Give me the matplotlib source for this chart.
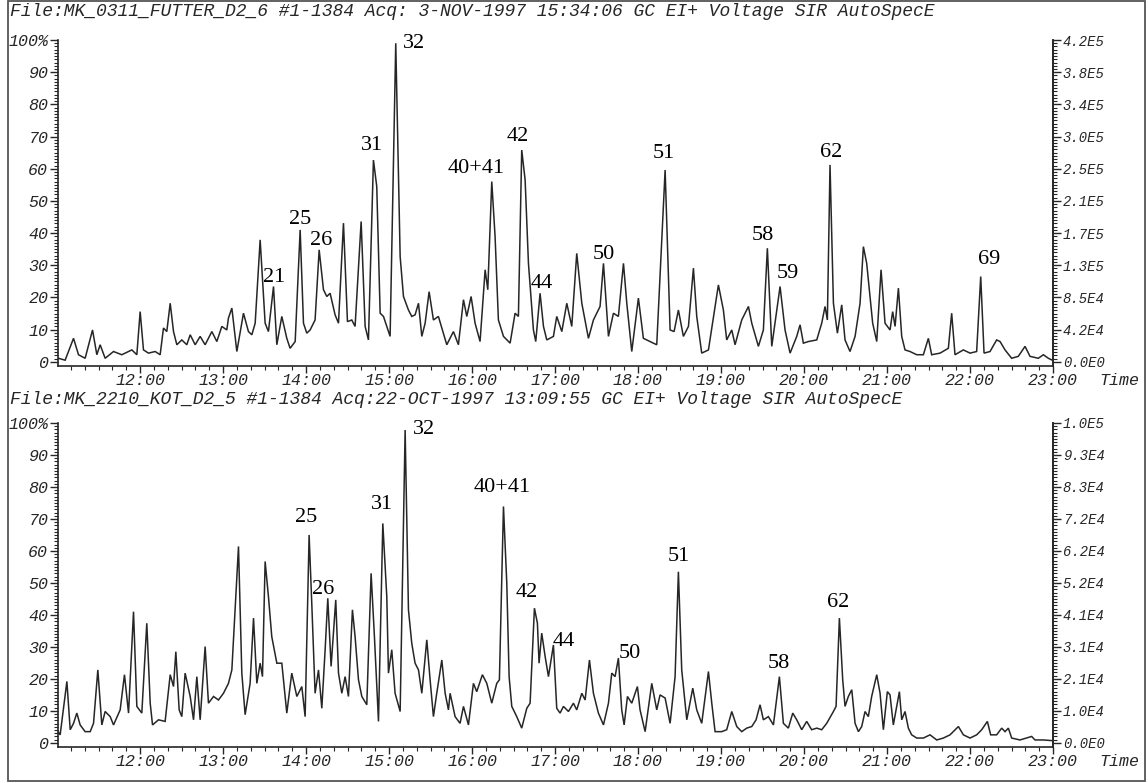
import matplotlib
matplotlib.use('Agg')
import matplotlib.pyplot as plt
from matplotlib.patches import Rectangle
from matplotlib.ticker import FixedLocator

# ---------------- data (retention time in minutes, relative intensity in %) -------------
top_time = [11.016, 11.096, 11.197, 11.257, 11.337, 11.426, 11.478, 11.518, 11.578, 11.679,
            11.779, 11.900, 11.960, 12.000, 12.040, 12.100, 12.181, 12.241, 12.281, 12.321,
            12.362, 12.402, 12.442, 12.502, 12.562, 12.603, 12.663, 12.723, 12.783, 12.864,
            12.924, 12.984, 13.044, 13.064, 13.105, 13.165, 13.245, 13.305, 13.346, 13.386,
            13.446, 13.506, 13.546, 13.607, 13.647, 13.707, 13.767, 13.807, 13.868, 13.928,
            13.968, 14.008, 14.048, 14.108, 14.157, 14.209, 14.249, 14.289, 14.349, 14.390,
            14.450, 14.498, 14.550, 14.590, 14.663, 14.711, 14.751, 14.811, 14.851, 14.892,
            14.932, 15.012, 15.080, 15.133, 15.173, 15.233, 15.273, 15.313, 15.354, 15.394,
            15.434, 15.482, 15.534, 15.594, 15.635, 15.695, 15.775, 15.835, 15.896, 15.936,
            15.988, 16.036, 16.096, 16.157, 16.189, 16.237, 16.277, 16.317, 16.378, 16.458,
            16.518, 16.558, 16.598, 16.639, 16.679, 16.739, 16.767, 16.819, 16.860, 16.900,
            16.980, 17.020, 17.081, 17.141, 17.201, 17.261, 17.322, 17.402, 17.462, 17.542,
            17.583, 17.643, 17.703, 17.763, 17.824, 17.864, 17.924, 18.004, 18.064, 18.145,
            18.225, 18.326, 18.386, 18.434, 18.486, 18.546, 18.607, 18.667, 18.707, 18.767,
            18.848, 18.968, 19.028, 19.068, 19.129, 19.169, 19.249, 19.330, 19.370, 19.450,
            19.510, 19.558, 19.611, 19.711, 19.771, 19.832, 19.912, 19.952, 19.992, 20.052,
            20.153, 20.213, 20.253, 20.281, 20.313, 20.354, 20.402, 20.454, 20.494, 20.554,
            20.615, 20.675, 20.715, 20.755, 20.787, 20.827, 20.876, 20.928, 20.976, 21.036,
            21.068, 21.097, 21.137, 21.177, 21.217, 21.277, 21.358, 21.438, 21.498, 21.538,
            21.639, 21.739, 21.779, 21.819, 21.920, 22.000, 22.080, 22.129, 22.169, 22.241,
            22.321, 22.362, 22.422, 22.502, 22.582, 22.663, 22.723, 22.823, 22.884, 22.944,
            22.984]
top_intensity = [1.1, 0.5, 7.3, 2.2, 1.1, 9.9, 2.2, 5.3, 1.1, 3.2,
                 2.2, 3.7, 2.2, 15.6, 3.7, 2.7, 3.2, 2.2, 10.5, 9.4,
                 18.2, 9.4, 5.3, 6.8, 5.3, 8.4, 5.3, 7.9, 5.3, 9.4,
                 6.3, 11.0, 9.9, 13.6, 16.7, 3.2, 15.1, 9.4, 8.4, 12.0,
                 37.9, 12.0, 9.4, 23.4, 5.3, 14.1, 7.3, 4.2, 6.3, 41.0,
                 12.0, 8.9, 9.9, 13.0, 34.8, 22.4, 20.3, 21.3, 14.6, 12.0,
                 43.1, 12.5, 13.0, 11.0, 43.6, 11.0, 6.8, 62.7, 54.5, 15.1,
                 14.1, 7.9, 99.0, 32.7, 20.3, 16.1, 14.1, 14.6, 18.2, 7.9,
                 12.0, 21.8, 13.0, 14.1, 10.5, 5.3, 9.4, 5.3, 19.3, 14.1,
                 20.3, 12.0, 6.3, 28.6, 22.4, 56.0, 38.9, 13.0, 7.9, 5.8,
                 15.1, 14.1, 65.8, 56.5, 30.6, 9.9, 6.3, 21.3, 11.0, 6.8,
                 7.9, 14.1, 9.4, 18.2, 11.0, 33.7, 18.2, 7.3, 13.0, 17.2,
                 30.6, 7.9, 15.1, 14.1, 30.6, 18.2, 3.2, 19.8, 7.3, 6.3,
                 5.3, 59.6, 9.9, 9.4, 16.1, 7.9, 11.0, 29.1, 14.1, 2.7,
                 3.7, 23.9, 16.1, 6.8, 9.9, 5.3, 13.0, 17.2, 12.0, 4.8,
                 9.9, 35.3, 4.8, 23.4, 9.9, 2.7, 7.9, 11.5, 5.8, 6.3,
                 6.8, 12.0, 17.2, 13.0, 61.2, 18.2, 8.9, 17.7, 6.8, 3.2,
                 7.9, 18.2, 35.8, 30.6, 22.4, 12.0, 6.3, 28.6, 12.0, 9.9,
                 15.6, 11.0, 22.9, 7.9, 3.7, 3.2, 2.2, 2.2, 7.3, 2.2,
                 2.7, 4.2, 15.1, 2.2, 3.7, 2.7, 3.2, 26.5, 2.7, 3.2,
                 6.8, 6.3, 3.7, 1.1, 1.7, 4.8, 1.7, 1.1, 2.2, 1.1,
                 0.6]

bottom_time = [10.996, 11.036, 11.117, 11.157, 11.197, 11.237, 11.277, 11.337, 11.398, 11.438,
               11.490, 11.538, 11.578, 11.639, 11.679, 11.759, 11.811, 11.860, 11.920, 11.960,
               12.020, 12.080, 12.121, 12.149, 12.221, 12.301, 12.362, 12.402, 12.430, 12.470,
               12.502, 12.542, 12.603, 12.643, 12.683, 12.723, 12.783, 12.823, 12.884, 12.944,
               13.004, 13.064, 13.105, 13.185, 13.225, 13.265, 13.325, 13.366, 13.406, 13.446,
               13.474, 13.506, 13.546, 13.586, 13.647, 13.707, 13.767, 13.827, 13.888, 13.948,
               13.988, 14.036, 14.068, 14.108, 14.149, 14.189, 14.229, 14.261, 14.301, 14.357,
               14.390, 14.430, 14.470, 14.510, 14.558, 14.590, 14.631, 14.671, 14.731, 14.783,
               14.823, 14.872, 14.924, 14.972, 14.992, 15.032, 15.072, 15.133, 15.193, 15.233,
               15.273, 15.313, 15.354, 15.394, 15.454, 15.494, 15.534, 15.574, 15.635, 15.675,
               15.715, 15.735, 15.795, 15.855, 15.896, 15.956, 16.016, 16.056, 16.124, 16.177,
               16.237, 16.297, 16.329, 16.378, 16.418, 16.446, 16.478, 16.538, 16.598, 16.659,
               16.699, 16.751, 16.787, 16.807, 16.839, 16.880, 16.920, 16.980, 17.020, 17.060,
               17.101, 17.161, 17.221, 17.261, 17.322, 17.362, 17.414, 17.462, 17.522, 17.583,
               17.643, 17.683, 17.723, 17.763, 17.803, 17.832, 17.872, 17.924, 17.992, 18.024,
               18.085, 18.165, 18.225, 18.265, 18.326, 18.386, 18.446, 18.486, 18.526, 18.587,
               18.659, 18.707, 18.767, 18.848, 18.888, 18.928, 19.008, 19.068, 19.129, 19.189,
               19.249, 19.309, 19.370, 19.422, 19.470, 19.510, 19.570, 19.631, 19.703, 19.751,
               19.811, 19.864, 19.912, 19.972, 20.032, 20.092, 20.153, 20.213, 20.273, 20.354,
               20.386, 20.426, 20.466, 20.494, 20.534, 20.575, 20.615, 20.655, 20.695, 20.735,
               20.775, 20.815, 20.876, 20.916, 20.956, 21.004, 21.036, 21.076, 21.149, 21.177,
               21.217, 21.257, 21.297, 21.358, 21.438, 21.518, 21.599, 21.679, 21.759, 21.860,
               21.920, 22.000, 22.080, 22.141, 22.209, 22.249, 22.321, 22.382, 22.422, 22.462,
               22.502, 22.602, 22.743, 22.783, 22.884, 22.984]
bottom_intensity = [4.1, 2.5, 19.2, 4.1, 6.1, 9.3, 5.6, 3.5, 3.5, 6.1,
                    22.8, 5.6, 9.8, 8.2, 5.6, 10.3, 21.3, 9.3, 41.0, 11.4,
                    9.3, 37.4, 12.4, 5.6, 7.2, 6.7, 21.3, 17.6, 28.5, 10.3,
                    8.2, 21.8, 14.5, 7.2, 20.7, 7.2, 30.1, 12.4, 14.5, 13.4,
                    15.5, 18.6, 22.8, 61.4, 21.8, 8.8, 18.6, 39.0, 18.6, 24.9,
                    20.7, 56.7, 45.7, 33.2, 24.9, 24.9, 9.3, 21.8, 14.5, 17.6,
                    8.2, 65.0, 43.6, 15.5, 22.8, 10.8, 29.1, 45.2, 23.9, 44.7,
                    21.8, 15.5, 20.7, 14.5, 41.6, 33.2, 19.7, 14.5, 11.9, 53.0,
                    33.2, 6.7, 68.6, 45.7, 21.8, 29.1, 15.5, 9.8, 97.8, 41.6,
                    31.1, 24.9, 22.8, 15.5, 32.2, 19.7, 8.2, 15.5, 25.9, 15.5,
                    10.3, 15.5, 8.2, 6.1, 11.4, 5.6, 18.6, 16.0, 21.3, 18.6,
                    12.4, 18.6, 19.7, 73.9, 49.9, 20.7, 11.4, 8.2, 4.6, 10.8,
                    12.4, 42.1, 37.4, 24.9, 34.3, 27.0, 20.7, 30.6, 10.8, 9.3,
                    11.4, 9.8, 12.4, 10.3, 15.5, 13.4, 25.9, 15.5, 9.3, 5.6,
                    12.4, 21.8, 20.7, 26.5, 10.3, 5.6, 14.5, 12.4, 17.6, 10.3,
                    3.5, 18.6, 10.3, 15.0, 14.0, 6.1, 20.7, 53.5, 22.8, 7.2,
                    17.1, 10.3, 6.1, 22.3, 12.4, 3.5, 3.5, 4.1, 9.8, 5.1,
                    3.5, 4.6, 5.1, 7.2, 11.9, 7.2, 8.2, 5.6, 20.7, 6.1,
                    4.6, 9.3, 7.2, 4.1, 6.7, 4.1, 4.6, 4.1, 6.1, 9.8,
                    11.4, 39.0, 19.7, 11.4, 14.5, 16.6, 6.1, 3.5, 5.1, 9.8,
                    8.2, 14.5, 21.3, 15.5, 4.1, 16.0, 15.0, 5.6, 16.0, 7.2,
                    9.8, 4.6, 2.5, 1.5, 1.5, 2.5, 0.9, 1.5, 2.5, 5.1,
                    2.5, 1.5, 2.5, 4.1, 6.7, 2.5, 2.5, 4.6, 3.5, 4.6,
                    1.5, 0.9, 2.0, 0.9, 0.9, 0.7]

# peak labels: text, time, intensity
top_labels = ["32", "31", "25", "26", "21", "40+41", "42", "44", "50", "51", "58", "59", "62", "69"]
top_label_time = [15.305, 14.799, 13.932, 14.177, 13.615, 16.044, 16.550, 16.839, 17.583,
                  18.305, 19.502, 19.807, 20.321, 22.225]
top_label_int = [98.8, 67.1, 44.3, 37.7, 26.1, 60.1, 70.0, 24.2, 33.5, 64.6, 39.1, 27.3, 65.0, 31.9]

bottom_labels = ["32", "31", "25", "26", "40+41", "42", "44", "50", "51", "58", "62"]
bottom_label_time = [15.426, 14.912, 14.004, 14.205, 16.357, 16.663, 17.105, 17.896, 18.486,
                     19.695, 20.410]
bottom_label_int = [98.0, 74.4, 70.5, 48.0, 79.9, 47.0, 31.7, 28.0, 58.4, 24.7, 44.0]

time_ticks = [12, 13, 14, 15, 16, 17, 18, 19, 20, 21, 22, 23]
time_tick_labels = ["12:00", "13:00", "14:00", "15:00", "16:00", "17:00", "18:00", "19:00",
                    "20:00", "21:00", "22:00", "23:00"]
pct_ticks = [0, 10, 20, 30, 40, 50, 60, 70, 80, 90, 100]
pct_tick_labels = ["0", "10", "20", "30", "40", "50", "60", "70", "80", "90", "100%"]
top_abs_labels = ["0.0E0", "4.2E4", "8.5E4", "1.3E5", "1.7E5", "2.1E5", "2.5E5", "3.0E5",
                  "3.4E5", "3.8E5", "4.2E5"]
bottom_abs_labels = ["0.0E0", "1.0E4", "2.1E4", "3.1E4", "4.1E4", "5.2E4", "6.2E4", "7.2E4",
                     "8.3E4", "9.3E4", "1.0E5"]

top_header = "File:MK_0311_FUTTER_D2_6 #1-1384 Acq: 3-NOV-1997 15:34:06 GC EI+ Voltage SIR AutoSpecE"
bottom_header = "File:MK_2210_KOT_D2_5 #1-1384 Acq:22-OCT-1997 13:09:55 GC EI+ Voltage SIR AutoSpecE"

# ---------------- drawing ----------------
W, H = 1148, 783
fig = plt.figure(figsize=(W / 100, H / 100), dpi=100)
fig.patch.set_facecolor('white')
MONO = 'Liberation Mono'
SERIF = 'Liberation Serif'
INK = '#262626'
XLIM = (11.01, 23.0)
YLIM = (-1.3, 100)


def px_axes(left, right, top, bottom):
    return fig.add_axes([left / W, 1 - bottom / H, (right - left) / W, (bottom - top) / H])


def panel(top_px, bottom_px, t, y, abs_labels, labels, lt, li):
    ax = px_axes(58, 1053, top_px, bottom_px)
    ax.plot(t, y, color=INK, lw=1.1, solid_joinstyle='miter')
    ax.set_xlim(*XLIM)
    ax.set_ylim(*YLIM)
    ax.spines['top'].set_visible(False)
    for s in ('left', 'right', 'bottom'):
        ax.spines[s].set_color(INK)
        ax.spines[s].set_linewidth(1.2)
    ax.xaxis.set_major_locator(FixedLocator(time_ticks))
    ax.set_xticklabels(time_tick_labels, family=MONO, style='italic', fontsize=12, color=INK)
    ax.xaxis.set_minor_locator(FixedLocator([m / 6 for m in range(67, 138)]))
    ax.yaxis.set_major_locator(FixedLocator(pct_ticks))
    ax.set_yticklabels(pct_tick_labels, family=MONO, style='italic', fontsize=12, color=INK)
    ax.yaxis.set_minor_locator(FixedLocator(list(range(0, 101))))
    ax.tick_params(which='major', direction='out', length=6, width=1.0, color=INK, pad=1)
    ax.tick_params(which='minor', direction='out', length=3, width=0.8, color=INK)
    ax.tick_params(axis='x', which='major', length=5, pad=0)

    axr = ax.twinx()
    axr.set_ylim(*YLIM)
    for s in ('left', 'top', 'bottom'):
        axr.spines[s].set_visible(False)
    axr.spines['right'].set_color(INK)
    axr.spines['right'].set_linewidth(1.2)
    axr.yaxis.set_major_locator(FixedLocator(pct_ticks))
    axr.set_yticklabels(abs_labels, family=MONO, style='italic', fontsize=10, color=INK)
    axr.yaxis.set_minor_locator(FixedLocator(list(range(0, 101))))
    axr.tick_params(which='major', direction='out', length=6, width=1.0, color=INK, pad=1)
    axr.tick_params(which='minor', direction='out', length=3, width=0.8, color=INK)

    for s, tx, iy in zip(labels, lt, li):
        ax.text(tx, iy, s, ha='center', va='center', family=SERIF, fontsize=16,
                color='black', clip_on=False)
    ax.annotate('Time', xy=(1, 0), xycoords='axes fraction', xytext=(48, -10.5),
                textcoords='offset points', ha='center', va='center', family=MONO,
                style='italic', fontsize=12, color=INK)
    return ax


panel(40, 366, top_time, top_intensity, top_abs_labels, top_labels, top_label_time, top_label_int)
panel(423, 747, bottom_time, bottom_intensity, bottom_abs_labels, bottom_labels,
      bottom_label_time, bottom_label_int)

fig.text(10 / W, 1 - 11 / H, top_header, ha='left', va='center', family=MONO,
         style='italic', fontsize=13, color=INK)
fig.text(10 / W, 1 - 400 / H, bottom_header, ha='left', va='center', family=MONO,
         style='italic', fontsize=13, color=INK)

fig.add_artist(Rectangle((8 / W, 2 / H), (1145 - 8) / W, (782 - 2) / H,
                         transform=fig.transFigure, fill=False, edgecolor='#555555', lw=1.3))

fig.savefig('out.png', dpi=100, facecolor='white')
